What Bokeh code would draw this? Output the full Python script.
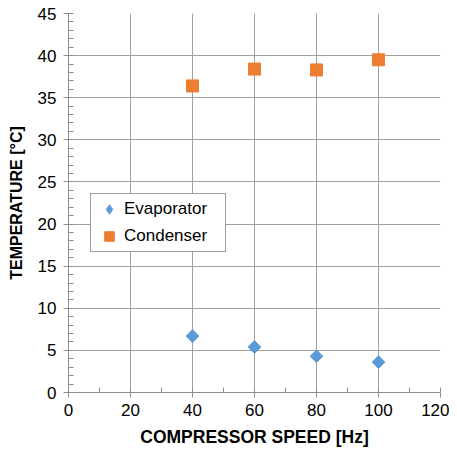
import math
from bokeh.plotting import figure
from bokeh.models import Range1d, FixedTicker, Legend, LegendItem, ColumnDataSource
from bokeh.embed import file_html
from bokeh.resources import INLINE

speed = [40, 60, 80, 100]
evaporator = [6.7, 5.4, 4.3, 3.6]
condenser = [36.4, 38.4, 38.3, 39.5]
x_ticks = [0, 20, 40, 60, 80, 100, 120]
y_ticks = [0, 5, 10, 15, 20, 25, 30, 35, 40, 45]

blue = "#5b9bd5"
orange = "#ed7d31"

p = figure(width=449, height=450, output_backend="svg", toolbar_location=None,
           x_range=Range1d(0, 120), y_range=Range1d(0, 45),
           min_border_left=68, min_border_right=9, min_border_top=13, min_border_bottom=58)
p.outline_line_color = None
p.background_fill_color = "white"
p.border_fill_color = "white"

grid_color = "#a0a0a0"
for g in (p.xgrid, p.ygrid):
    g.grid_line_color = grid_color
    g.grid_line_width = 1
p.xaxis.ticker = FixedTicker(ticks=x_ticks, minor_ticks=list(range(0, 121, 10)))
p.yaxis.ticker = FixedTicker(ticks=y_ticks, minor_ticks=list(range(0, 46, 1)))
p.xgrid.ticker = FixedTicker(ticks=x_ticks)
p.ygrid.ticker = FixedTicker(ticks=y_ticks)

for ax in (p.xaxis, p.yaxis):
    ax.axis_line_color = "#8c8c8c"
    ax.major_tick_line_color = "#8c8c8c"
    ax.minor_tick_line_color = "#8c8c8c"
    ax.major_tick_out = 5
    ax.major_tick_in = 0
    ax.minor_tick_in = 5
    ax.minor_tick_out = 0
    ax.major_label_text_font = "Liberation Sans"
    ax.major_label_text_font_size = "17px"
    ax.major_label_text_color = "black"
    ax.axis_label_text_font = "Liberation Sans"
    ax.axis_label_text_font_style = "bold"
    ax.axis_label_text_color = "black"

p.xaxis.axis_label_text_font_size = "17.5px"
p.yaxis.axis_label_text_font_size = "16px"
p.xaxis.axis_label = "COMPRESSOR SPEED [Hz]"
p.yaxis.axis_label = "TEMPERATURE [°C]"
p.xaxis.major_label_standoff = 6
p.yaxis.major_label_standoff = 7
p.xaxis.axis_label_standoff = 8
p.yaxis.axis_label_standoff = 10

r1 = p.scatter(speed, evaporator, marker="square", size=9, angle=math.pi / 4,
               fill_color=blue, line_color=blue)
r2 = p.scatter(speed, condenser, marker="square", size=12, fill_color=orange, line_color=orange)
# legend-only glyph (draws nothing in the plot area)
r1_leg = p.scatter(x="x", y="y", source=ColumnDataSource(dict(x=[float("nan")], y=[float("nan")])),
                   marker="diamond", fill_color=blue, line_color=blue)

legend = Legend(items=[LegendItem(label="Evaporator", renderers=[r1_leg]),
                       LegendItem(label="Condenser", renderers=[r2])],
                location=(22, 140))
legend.border_line_color = "#404040"
legend.border_line_width = 1
legend.label_text_font = "Liberation Sans"
legend.label_text_font_size = "17px"
legend.label_text_color = "black"
legend.glyph_width = 30
legend.glyph_height = 24
legend.spacing = 3
legend.padding = 3
legend.margin = 0
legend.label_standoff = 0
legend.label_width = 98
legend.background_fill_alpha = 1
p.add_layout(legend, "center")

open("out.html", "w").write(file_html(p, INLINE))
